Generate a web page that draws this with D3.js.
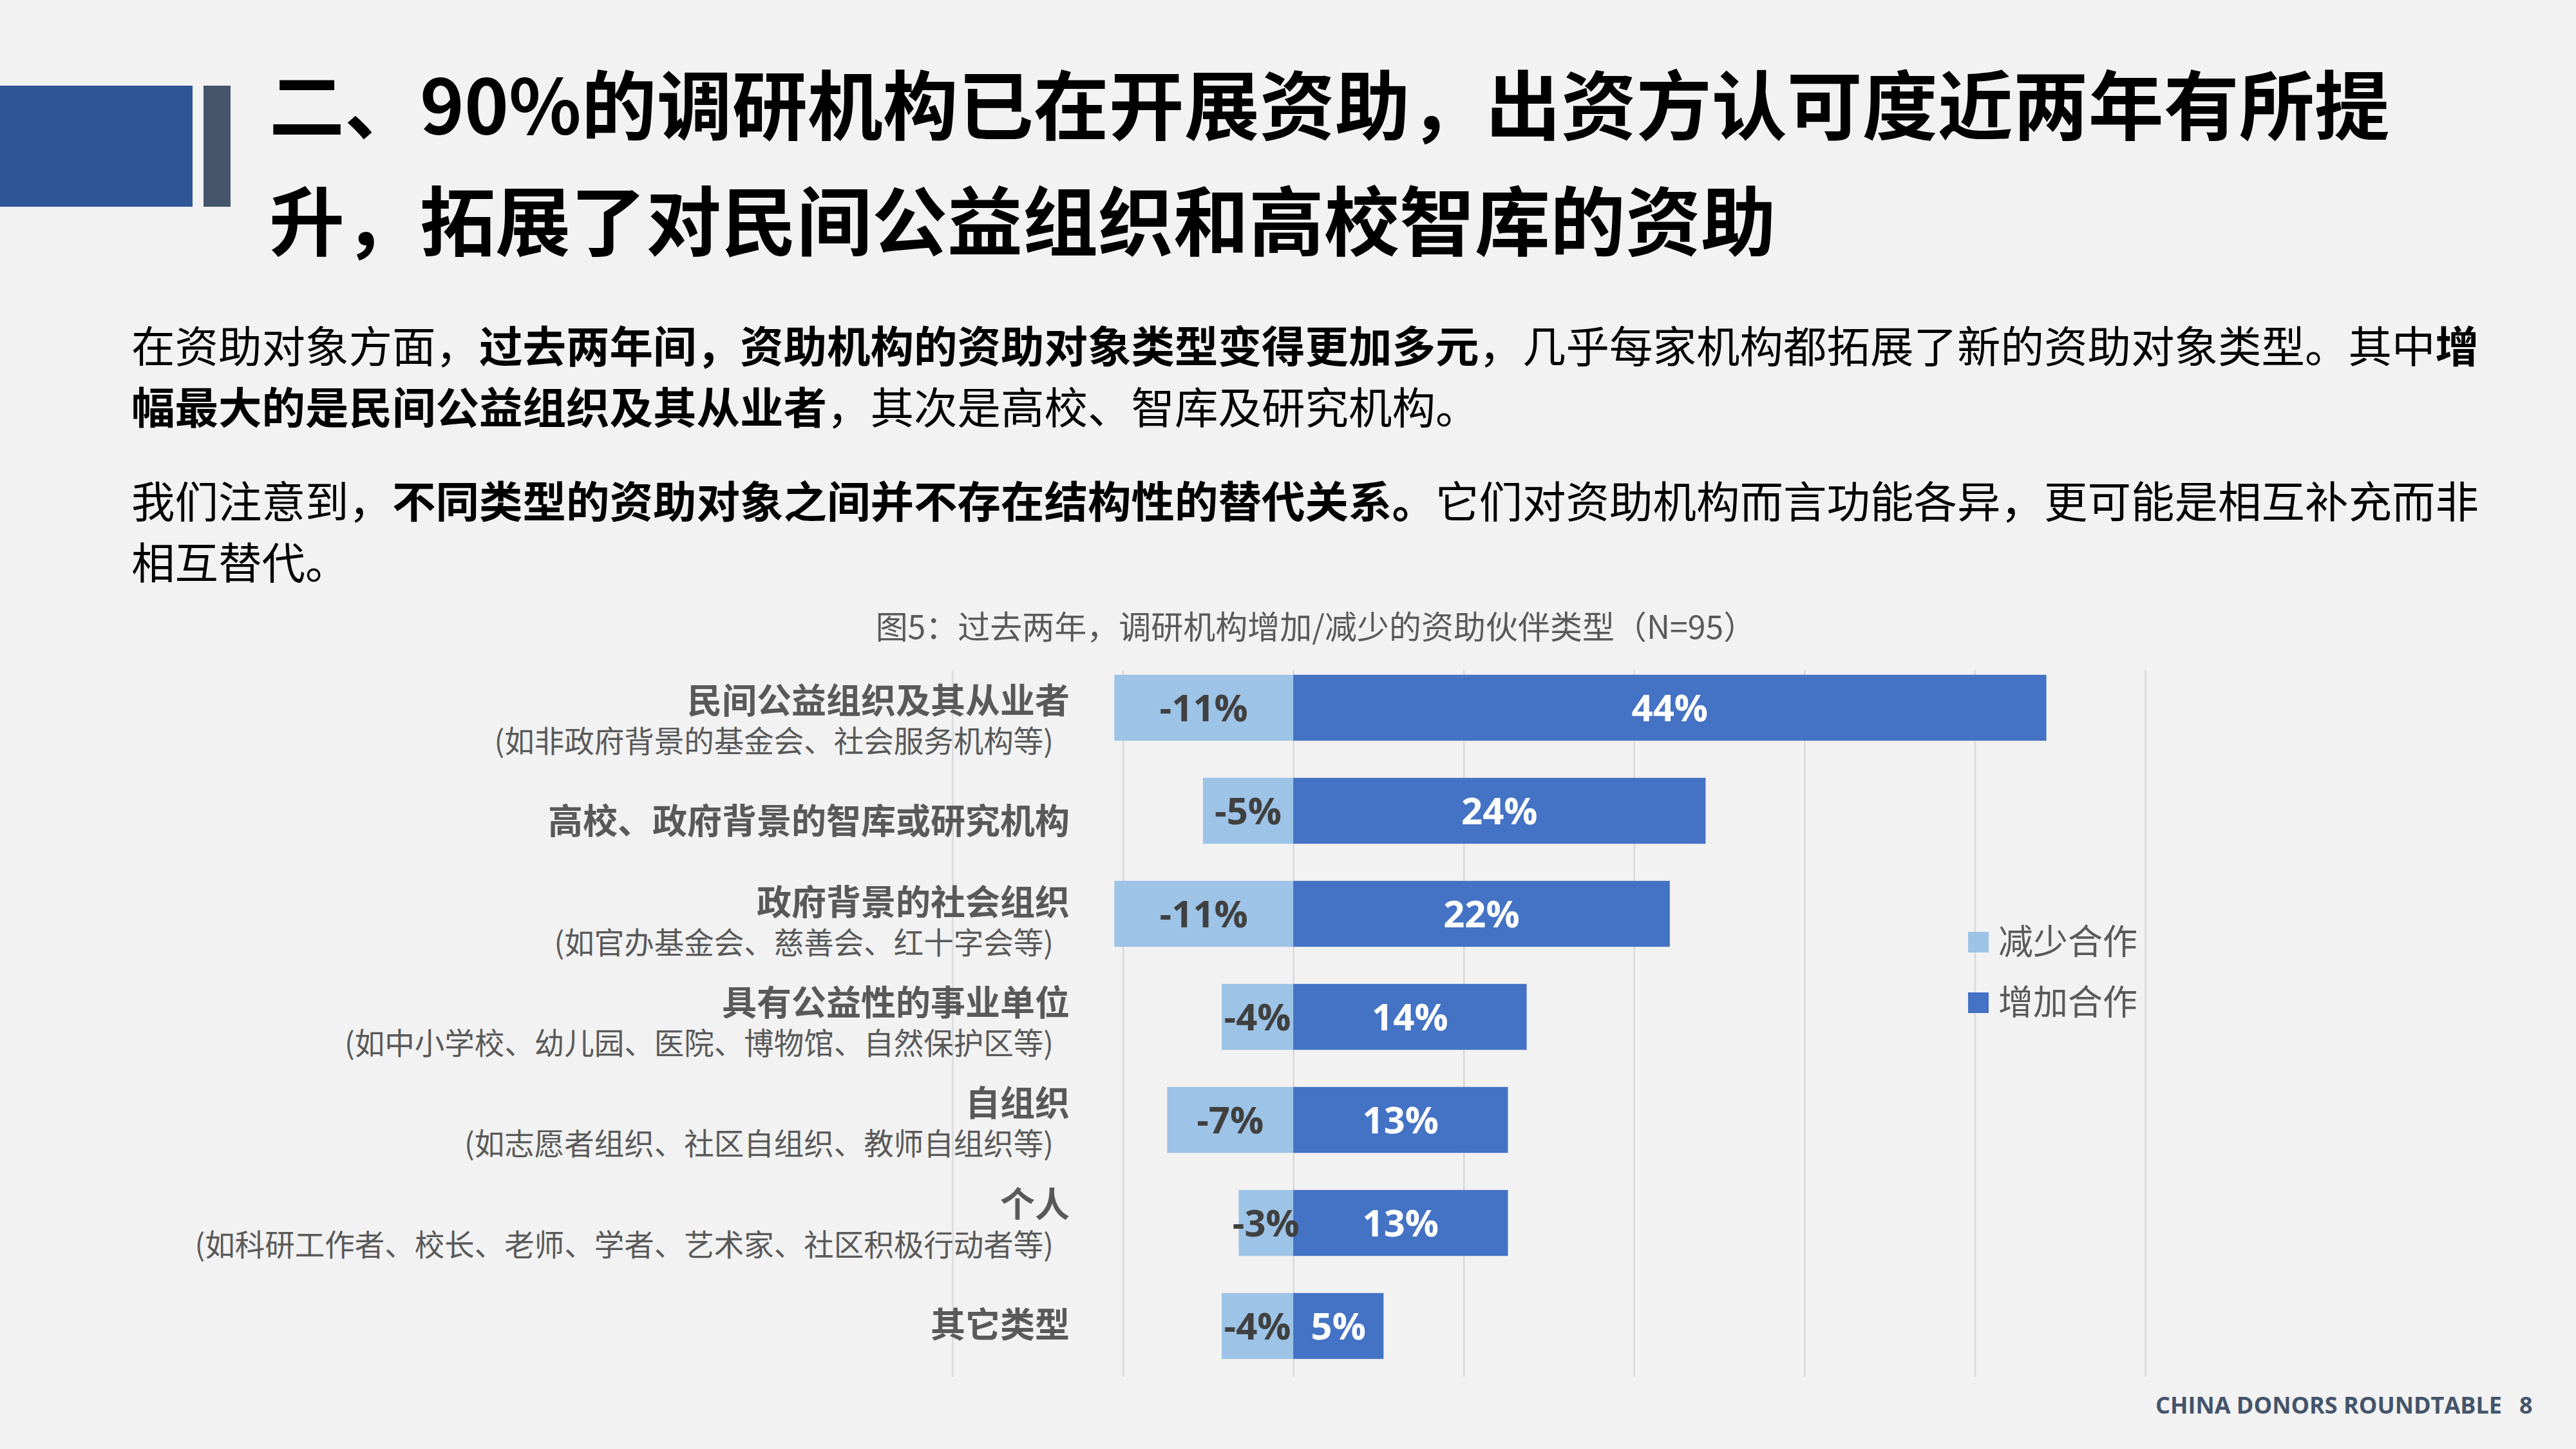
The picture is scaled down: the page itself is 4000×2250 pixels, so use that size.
<!DOCTYPE html>
<html>
<head>
<meta charset="utf-8">
<title>图5 资助伙伴类型</title>
<style>
    body { margin: 0; background: #F2F2F2; }
    svg { display: block; }
    .cjk { font-family: "Noto Sans CJK SC", sans-serif; }
    .num { font-family: "Open Sans", "Noto Sans CJK SC", sans-serif; }
</style>
<script src="https://d3js.org/d3.v7.min.js"></script>
</head>
<body>
<script>
// chart data
var categories = ["民间公益组织及其从业者", "高校、政府背景的智库或研究机构", "政府背景的社会组织",
    "具有公益性的事业单位", "自组织", "个人", "其它类型"];
var subLabels = ["(如非政府背景的基金会、社会服务机构等)", "", "(如官办基金会、慈善会、红十字会等)",
    "(如中小学校、幼儿园、医院、博物馆、自然保护区等)", "(如志愿者组织、社区自组织、教师自组织等)",
    "(如科研工作者、校长、老师、学者、艺术家、社区积极行动者等)", ""];
var decrease = [-10.5, -5.3, -10.5, -4.2, -7.4, -3.2, -4.2];
var increase = [44.2, 24.2, 22.1, 13.7, 12.6, 12.6, 5.3];
var seriesNames = ["减少合作", "增加合作"];
var gridTicks = [-20, -10, 0, 10, 20, 30, 40, 50];

var width = 4000, height = 2250;
var lightBlue = "#9DC3E6", darkBlue = "#4472C4", grey = "#595959";

var svg = d3.select("body").append("svg")
    .attr("width", width)
    .attr("height", height);

svg.append("rect").attr("width", width).attr("height", height).attr("fill", "#F2F2F2");

// header decoration
svg.append("rect").attr("x", 0).attr("y", 133).attr("width", 299).attr("height", 188).attr("fill", "#2F5597");
svg.append("rect").attr("x", 316).attr("y", 133).attr("width", 42).attr("height", 188).attr("fill", "#44546A");

var title = svg.append("g").attr("class", "cjk")
    .style("font-size", "117px").style("font-weight", 700).attr("fill", "#000");
title.append("text").attr("x", 418).attr("y", 208).text("二、90%的调研机构已在开展资助，出资方认可度近两年有所提");
title.append("text").attr("x", 418).attr("y", 388).text("升，拓展了对民间公益组织和高校智库的资助");

// body paragraphs: [text, bold?] pieces
var bodyLines = [
    [["在资助对象方面，", 0], ["过去两年间，资助机构的资助对象类型变得更加多元", 1], ["，几乎每家机构都拓展了新的资助对象类型。其中", 0], ["增", 1]],
    [["幅最大的是民间公益组织及其从业者", 1], ["，其次是高校、智库及研究机构。", 0]],
    [["我们注意到，", 0], ["不同类型的资助对象之间并不存在结构性的替代关系。", 1], ["它们对资助机构而言功能各异，更可能是相互补充而非", 0]],
    [["相互替代。", 0]]
];
var bodyY = [563, 658, 804, 899];
var body = svg.append("g").attr("class", "cjk").style("font-size", "67.5px").attr("fill", "#000");
bodyLines.forEach(function(line, i) {
    var t = body.append("text").attr("x", 204).attr("y", bodyY[i]);
    line.forEach(function(p) {
        t.append("tspan").style("font-weight", p[1] ? 700 : 400).text(p[0]);
    });
});

// caption
svg.append("text").attr("class", "cjk")
    .attr("x", 2043).attr("y", 992)
    .attr("text-anchor", "middle")
    .style("font-size", "50px").attr("fill", grey)
    .text("图5：过去两年，调研机构增加/减少的资助伙伴类型（N=95）");

// scales
var x = d3.scaleLinear().domain([-20, 50]).range([1479, 3331]);
var y = d3.scaleBand().domain(categories).range([1019, 2139]).paddingInner(0.36).paddingOuter(0.18);
var yLabel = d3.scaleBand().domain(categories).range([1041, 2135]);

// gridlines
var grid = svg.append("g").attr("transform", "translate(0,2138)")
    .call(d3.axisBottom(x).tickValues(gridTicks).tickSize(-1098).tickFormat(""));
grid.select(".domain").remove();
grid.selectAll(".tick line").attr("stroke", "#D9D9D9").attr("stroke-width", 2.5);

// bars
var rows = categories.map(function(c, i) {
    return { cat: c, sub: subLabels[i], dec: decrease[i], inc: increase[i] };
});

svg.append("g").selectAll("rect").data(rows).enter().append("rect")
    .attr("x", function(d) { return x(d.dec); })
    .attr("y", function(d) { return y(d.cat); })
    .attr("width", function(d) { return x(0) - x(d.dec); })
    .attr("height", y.bandwidth())
    .attr("fill", lightBlue);

svg.append("g").selectAll("rect").data(rows).enter().append("rect")
    .attr("x", x(0))
    .attr("y", function(d) { return y(d.cat); })
    .attr("width", function(d) { return x(d.inc) - x(0); })
    .attr("height", y.bandwidth())
    .attr("fill", darkBlue);

// value labels (round half away from zero)
var fmt = function(v) { return (v < 0 ? "-" : "") + Math.round(Math.abs(v)) + "%"; };
var vals = svg.append("g").attr("class", "num").style("font-size", "58px").style("font-weight", 700)
    .attr("text-anchor", "middle");
vals.selectAll(".dec").data(rows).enter().append("text")
    .attr("x", function(d) { return (x(d.dec) + x(0)) / 2; })
    .attr("y", function(d) { return y(d.cat) + y.bandwidth() / 2; })
    .attr("dy", "0.36em")
    .attr("fill", "#404040")
    .text(function(d) { return fmt(d.dec); });
vals.selectAll(".inc").data(rows).enter().append("text")
    .attr("x", function(d) { return (x(d.inc) + x(0)) / 2; })
    .attr("y", function(d) { return y(d.cat) + y.bandwidth() / 2; })
    .attr("dy", "0.36em")
    .attr("fill", "#fff")
    .text(function(d) { return fmt(d.inc); });

// category labels
var labels = svg.append("g").attr("class", "cjk").attr("fill", grey).attr("text-anchor", "end");
labels.selectAll(".main").data(rows).enter().append("text")
    .attr("x", 1661)
    .attr("y", function(d) {
        var c = yLabel(d.cat) + yLabel.bandwidth() / 2;
        return d.sub ? c - 11 : c + 20;
    })
    .style("font-size", "54px").style("font-weight", 700)
    .text(function(d) { return d.cat; });
labels.selectAll(".sub").data(rows.filter(function(d) { return d.sub; })).enter().append("text")
    .attr("x", 1636)
    .attr("y", function(d) { return yLabel(d.cat) + yLabel.bandwidth() / 2 + 49; })
    .style("font-size", "46.5px")
    .text(function(d) { return d.sub; });

// legend
var legend = svg.append("g").attr("class", "cjk");
var legendItems = legend.selectAll("g").data(seriesNames).enter().append("g")
    .attr("transform", function(d, i) { return "translate(3056," + (1463 + i * 94) + ")"; });
legendItems.append("rect")
    .attr("x", 0).attr("y", -16).attr("width", 32).attr("height", 32)
    .attr("fill", function(d, i) { return i ? darkBlue : lightBlue; });
legendItems.append("text")
    .attr("x", 47).attr("y", 19)
    .style("font-size", "54px").attr("fill", grey)
    .text(function(d) { return d; });

// footer
var footer = svg.append("g").attr("class", "num").style("font-weight", 700).style("font-size", "36px").attr("fill", "#44546A");
footer.append("text").attr("x", 3347).attr("y", 2195).text("CHINA DONORS ROUNDTABLE");
footer.append("text").attr("x", 3912).attr("y", 2195).text("8");
</script>
</body>
</html>
